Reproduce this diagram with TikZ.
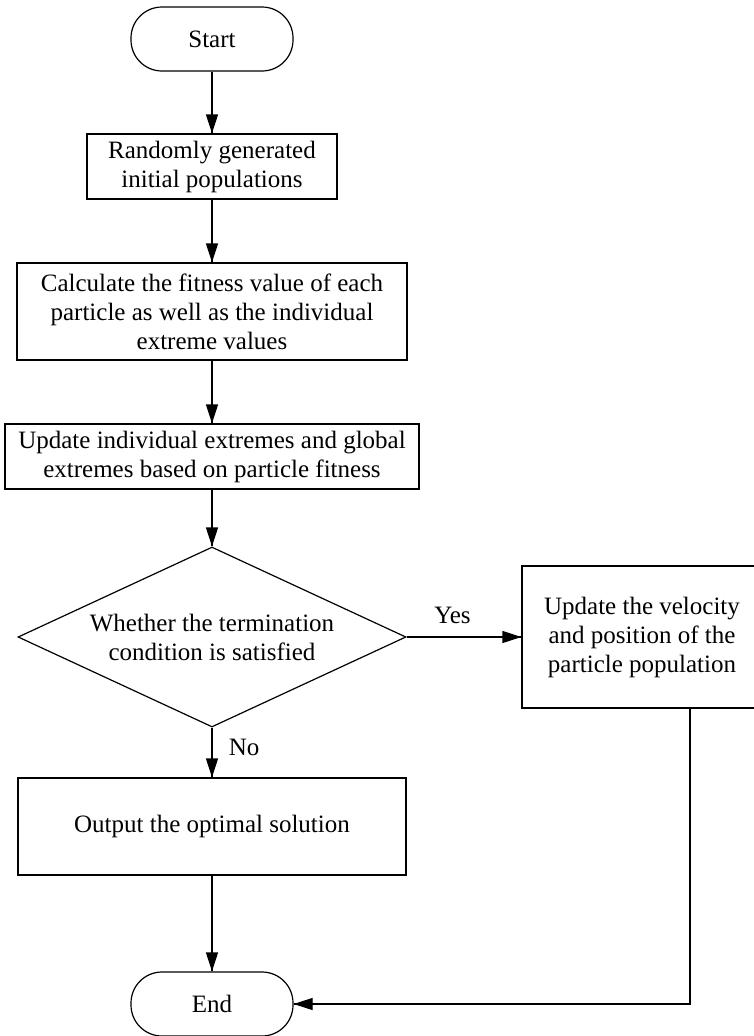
\documentclass[tikz,border=0pt]{standalone}
\usepackage{fontspec}
\setmainfont{Liberation Serif}
\tikzset{->/.style = {decoration={markings, mark=at position 1 with {\arrow{Triangle[length=19pt, width=12pt]}}}, postaction={decorate}}}
\tikzset{box/.style = {draw, rectangle, align = center, inner sep = 0}}
\tikzset{term/.style = {draw, rectangle, rounded corners = 31pt, minimum width = 162pt, minimum height = 64pt}}
\tikzset{decision/.style = {draw, diamond, aspect = 2.15, align = center, inner sep = 0, minimum width = 388pt, minimum height = 180pt}}
\usetikzlibrary{arrows.meta,
                 shapes.geometric,
                 decorations.markings}

\begin{document}
\begin{tikzpicture}[x = 1pt, y = -1pt, line width = 1.2pt, font = \fontsize{25}{29}\selectfont]
    \useasboundingbox (0, 0) rectangle (754, 1036);
    \node [term] (start) at (212, 39) {Start};
    \node [box, minimum width = 250pt, minimum height = 65pt] (init) at (212, 166.5) {Randomly generated\\initial populations};
    \node [box, minimum width = 390pt, minimum height = 97pt] (fit) at (212, 311.5) {Calculate the fitness value of each\\particle as well as the individual\\extreme values};
    \node [box, minimum width = 414pt, minimum height = 65pt] (upd) at (212, 456.5) {Update individual extremes and global\\extremes based on particle fitness};
    \node [decision] (cond) at (212, 637) {Whether the termination\\condition is satisfied};
    \node [box, minimum width = 240pt, minimum height = 142pt] (move) at (642, 637) {Update the velocity\\and position of the\\particle population};
    \node [box, minimum width = 388pt, minimum height = 97pt] (out) at (212, 826.5) {Output the optimal solution};
    \node [term] (end) at (212, 1004) {End};
    \draw [->] (start) -- (init);
    \draw [->] (init) -- (fit);
    \draw [->] (fit) -- (upd);
    \draw [->] (upd) -- (cond);
    \draw [->] (cond) -- (move) node [pos = 0.4, above = 9pt] (yes) {Yes};
    \draw [->] (cond) -- (out) node [pos = 0.4, right = 13pt] (no) {No};
    \draw [->] (out) -- (end);
    %\draw (move.south) -- (move.south |- end);
    \draw [->] ([xshift = 48pt] move.south) |- (end);
\end{tikzpicture}
\end{document}
